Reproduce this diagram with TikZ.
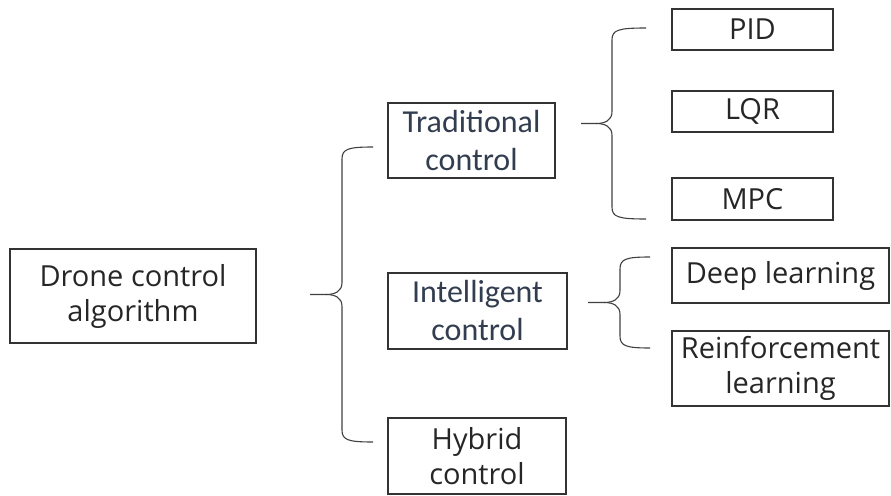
\documentclass[tikz,border=0pt]{standalone}
\usepackage{fontspec}
\setmainfont{Open Sans}
\newfontfamily\calfont{Carlito}
\definecolor{slate}{RGB}{50,62,80}
\tikzset{
  box/.style={draw=black!80, line width=1.2pt, align=center, inner sep=0pt,
    text=black!85, font=\fontsize{29}{35}\selectfont},
  cbox/.style={box, text=slate, font=\calfont\fontsize{32}{38}\selectfont},
  brace/.style={draw=black!75, line width=1.1pt}
}
% #1 tip x, #2 spine x, #3 arm x, #4 top y, #5 bottom y
\newcommand{\ctrlbrace}[5]{%
  \pgfmathsetmacro\midy{(#4+#5)/2}
  \draw[brace] (#3,#4) .. controls (#2+6,#4) and (#2,#4+2) .. (#2,#4+12)
    -- (#2,\midy-12) .. controls (#2,\midy-3) and (#2-7,\midy) .. (#2-16,\midy) -- (#1,\midy);
  \draw[brace] (#3,#5) .. controls (#2+6,#5) and (#2,#5-2) .. (#2,#5-12)
    -- (#2,\midy+12) .. controls (#2,\midy+3) and (#2-7,\midy) .. (#2-16,\midy);
}

\begin{document}
\begin{tikzpicture}[x=1pt,y=-1pt]
  \useasboundingbox (0,0) rectangle (891,495);

  % root
  \node[box, minimum width=246pt, minimum height=94pt] (drone) at (133,296) {Drone control\\algorithm};

  % second level
  \node[cbox, minimum width=167pt, minimum height=75pt] (trad) at (471.5,140.5) {Traditional\\control};
  \node[cbox, minimum width=179pt, minimum height=76pt] (intel) at (477.5,311) {Intelligent\\control};
  \node[box, minimum width=178pt, minimum height=76pt] (hybrid) at (477,456) {Hybrid\\control};

  % third level
  \node[box, minimum width=161pt, minimum height=41pt] (pid) at (752.5,29.5) {PID};
  \node[box, minimum width=161pt, minimum height=41pt] (lqr) at (752.5,111.5) {LQR};
  \node[box, minimum width=161pt, minimum height=42pt] (mpc) at (752.5,199) {MPC};
  \node[box, minimum width=217pt, minimum height=55pt] (deep) at (780.5,275.5) {Deep learning};
  \node[box, minimum width=217pt, minimum height=75pt] (rein) at (780.5,368.5) {Reinforcement\\learning};

  % braces
  \ctrlbrace{310}{342}{373}{147}{442}
  \ctrlbrace{581}{612}{646}{28}{219}
  \ctrlbrace{588}{620}{650}{257}{348}
\end{tikzpicture}
\end{document}
